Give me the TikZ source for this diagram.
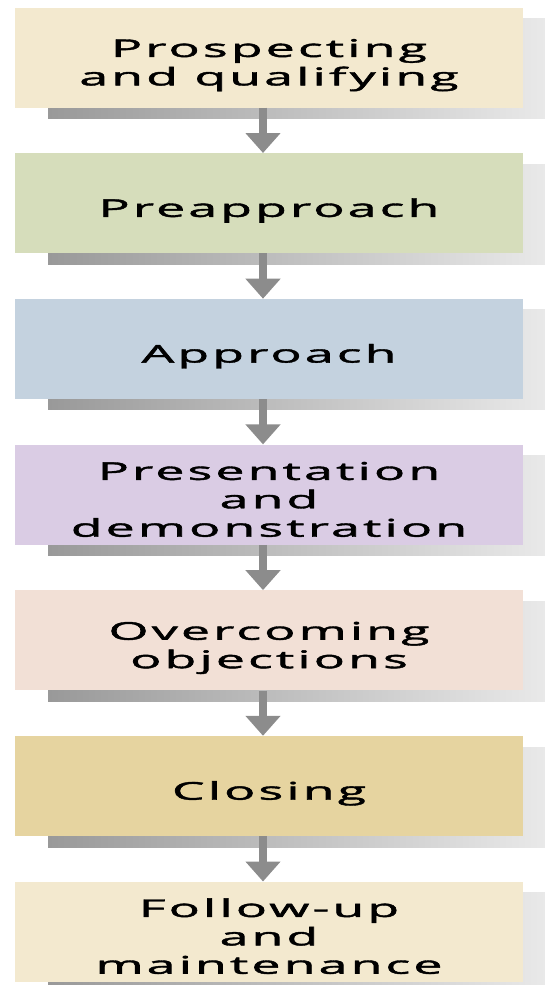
\documentclass[tikz,border=0pt]{standalone}
\usepackage{fontspec}
\newfontfamily\stagefont[LetterSpace=6.5, FakeBold=1.5]{Open Sans}
\usepackage{graphicx}
\usepackage{tikz}
\usetikzlibrary{positioning, arrows.meta, shadows}
\definecolor{stageA}{HTML}{F3E9CF}
\definecolor{stageB}{HTML}{D6DDBB}
\definecolor{stageC}{HTML}{C4D2DF}
\definecolor{stageD}{HTML}{DACCE4}
\definecolor{stageE}{HTML}{F2E0D6}
\definecolor{stageF}{HTML}{E6D4A0}
% wide, stretched lettering of the boxes, set a little below the middle
\newcommand\stagetext[1]{\raisebox{-4pt}[\dimexpr\height+8pt\relax][\depth]{\scalebox{2.1}[1]{\begin{tabular}{@{}c@{}}#1\end{tabular}}}}
\tikzset{
        x=1pt, y=1pt, % one unit is one pixel of the reference
        node distance=45.3pt, % gap between two boxes
        stage/.style={rectangle, fill=#1, minimum width=508pt, minimum height=100pt,
          inner sep=0pt, font=\fontsize{24.5}{28.4}\selectfont\stagefont,
          general shadow={shadow xshift=33pt, shadow yshift=-11pt,
            left color=black!40, right color=black!8}}, % sets the look of each box
        flow/.style={-{Triangle[width=34pt,length=20pt]}, line width=8pt, color=black!45}, % the gray arrows
    }
\begin{document}
\begin{tikzpicture}
    \useasboundingbox (0,0) rectangle (544,-985);
    \node[stage=stageA] (1) at (269,-57.5) {\stagetext{Prospecting\\and qualifying}};
    \node[stage=stageB, below=of 1] (2) {\stagetext{Preapproach}};
    \node[stage=stageC, below=of 2] (3) {\stagetext{Approach}};
    \node[stage=stageD, below=of 3] (4) {\stagetext{Presentation\\and\\demonstration}};
    \node[stage=stageE, below=of 4] (5) {\stagetext{Overcoming\\objections}};
    \node[stage=stageF, below=of 5] (6) {\stagetext{Closing}};
    \node[stage=stageA, below=of 6] (7) {\stagetext{Follow-up\\and\\maintenance}};
    \path[flow]
      ([xshift=-6pt]1.south) edge ([xshift=-6pt]2.north)
      ([xshift=-6pt]2.south) edge ([xshift=-6pt]3.north)
      ([xshift=-6pt]3.south) edge ([xshift=-6pt]4.north)
      ([xshift=-6pt]4.south) edge ([xshift=-6pt]5.north)
      ([xshift=-6pt]5.south) edge ([xshift=-6pt]6.north)
      ([xshift=-6pt]6.south) edge ([xshift=-6pt]7.north);
\end{tikzpicture}
\end{document}
